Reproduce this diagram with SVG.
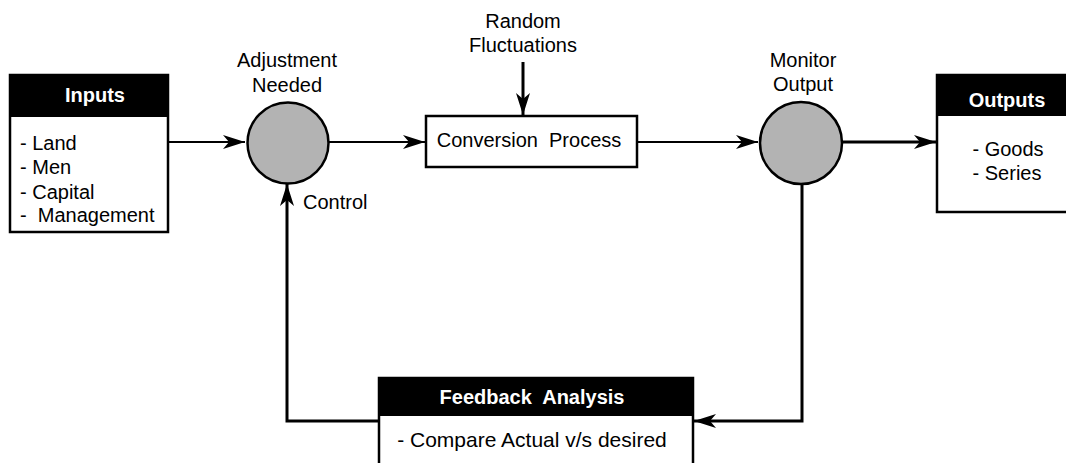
<svg xmlns="http://www.w3.org/2000/svg" width="1066" height="463" viewBox="0 0 1066 463">
  <style>
    text { font-family: "Liberation Sans", Arial, sans-serif; font-size: 20px; fill: #000; white-space: pre; }
    .hdr { font-weight: bold; fill: #fff; }
    .mid { text-anchor: middle; }
    .box { fill: #fff; stroke: #000; stroke-width: 2.5; }
    .bar { fill: #000; }
    .sum { fill: #b3b3b3; stroke: #000; stroke-width: 2.5; }
    .thin { fill: none; stroke: #000; stroke-width: 2; }
    .thick { fill: none; stroke: #000; stroke-width: 3; }
  </style>
  <defs>
    <marker id="arrow" markerUnits="userSpaceOnUse" markerWidth="24" markerHeight="16" refX="22" refY="7" orient="auto">
      <path d="M0,0 L22,7 L0,14 L6,7 Z" fill="#000"/>
    </marker>
  </defs>
  <rect width="1066" height="463" fill="#fff"/>

  <!-- connectors -->
  <g id="connectors">
    <line class="thin" x1="169" y1="142" x2="245" y2="142" marker-end="url(#arrow)"/>
    <line class="thin" x1="329" y1="142" x2="425" y2="142" marker-end="url(#arrow)"/>
    <line class="thin" x1="637" y1="142" x2="758" y2="142" marker-end="url(#arrow)"/>
    <line class="thick" x1="842" y1="142" x2="936" y2="142" marker-end="url(#arrow)"/>
    <line class="thick" x1="523" y1="62" x2="523" y2="115" marker-end="url(#arrow)"/>
    <polyline class="thick" points="802,183 802,421 694,421" marker-end="url(#arrow)"/>
    <polyline class="thick" points="379,421 287,421 287,184" marker-end="url(#arrow)"/>
  </g>

  <!-- inputs block -->
  <g id="inputs">
    <rect class="box" x="10" y="75" width="158" height="157"/>
    <rect class="bar" x="10" y="75" width="158" height="42"/>
    <text class="hdr mid" x="95" y="102">Inputs</text>
    <text x="20" y="150">- Land</text>
    <text x="20" y="174">- Men</text>
    <text x="20" y="199">- Capital</text>
    <text x="20" y="222">-  Management</text>
  </g>

  <!-- adjustment summing point -->
  <g id="adjustment">
    <circle class="sum" cx="288" cy="143" r="40.5"/>
    <text class="mid" x="287" y="67">Adjustment</text>
    <text class="mid" x="287" y="92">Needed</text>
    <text x="303" y="209">Control</text>
  </g>

  <!-- disturbance label -->
  <g id="random">
    <text class="mid" x="523" y="28">Random</text>
    <text class="mid" x="523" y="52">Fluctuations</text>
  </g>

  <!-- conversion process -->
  <g id="conversion">
    <rect class="box" x="426" y="116" width="211" height="51"/>
    <text class="mid" x="529" y="147">Conversion  Process</text>
  </g>

  <!-- monitor summing point -->
  <g id="monitor">
    <circle class="sum" cx="801" cy="143" r="41"/>
    <text class="mid" x="803" y="67">Monitor</text>
    <text class="mid" x="803" y="91">Output</text>
  </g>

  <!-- outputs block -->
  <g id="outputs">
    <rect class="box" x="937" y="75" width="140" height="137"/>
    <rect class="bar" x="937" y="75" width="140" height="41"/>
    <text class="hdr mid" x="1007" y="107">Outputs</text>
    <text class="mid" x="1008" y="156">- Goods</text>
    <text class="mid" x="1007" y="180">- Series</text>
  </g>

  <!-- feedback analysis -->
  <g id="feedback">
    <rect class="box" x="379" y="378" width="314" height="100"/>
    <rect class="bar" x="379" y="378" width="314" height="38"/>
    <text class="hdr mid" x="532" y="404">Feedback  Analysis</text>
    <text class="mid" x="532" y="447" style="font-size:21px">- Compare Actual v/s desired</text>
  </g>
</svg>
